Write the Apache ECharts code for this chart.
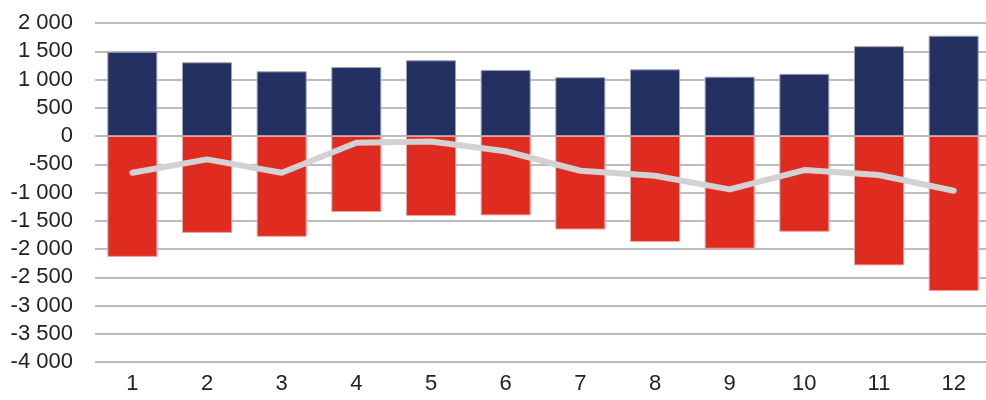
<!DOCTYPE html>
<html>
<head>
<meta charset="utf-8">
<script src="https://cdn.jsdelivr.net/npm/echarts@6/dist/echarts.min.js"></script>
<style>html,body{margin:0;padding:0;background:#fff}#c{width:986px;height:400px}</style>
</head>
<body>
<div id="c"></div>
<script>
var categories = ['1','2','3','4','5','6','7','8','9','10','11','12'];
var positiveValues = [1490, 1305, 1145, 1220, 1340, 1170, 1040, 1180, 1050, 1100, 1590, 1775];
var negativeValues = [-2140, -1715, -1785, -1345, -1415, -1405, -1655, -1875, -1995, -1695, -2290, -2745];
var lineValues = [-650, -413, -650, -119, -98, -270, -615, -704, -945, -603, -691, -970];

function fmt(v) {
  var s = Math.abs(v).toString();
  var out = s.replace(/\B(?=(\d{3})+(?!\d))/g, ' ');
  return (v < 0 ? '-' : '') + out;
}

var chart = echarts.init(document.getElementById('c'), null, {renderer: 'canvas'});
chart.setOption({
  animation: false,
  backgroundColor: '#fff',
  textStyle: {fontFamily: 'Liberation Sans, Arial, sans-serif'},
  grid: {left: 95, top: 23, width: 896, height: 339, containLabel: false, outerBoundsMode: 'none'},
  xAxis: {
    type: 'category',
    data: categories,
    position: 'bottom',
    axisLine: {show: false},
    axisTick: {show: false},
    axisLabel: {fontSize: 22, color: '#222', margin: 11, fontFamily: 'Liberation Sans, Arial, sans-serif'},
    splitLine: {show: false}
  },
  yAxis: {
    type: 'value',
    min: -4000,
    max: 2000,
    interval: 500,
    axisLine: {show: false},
    axisTick: {show: false},
    axisLabel: {fontSize: 22, color: '#222', margin: 22, formatter: fmt, fontFamily: 'Liberation Sans, Arial, sans-serif'},
    splitLine: {show: true, lineStyle: {color: '#a6a6a6', width: 1.5}}
  },
  series: [
    {
      type: 'bar', stack: 'total', data: positiveValues, barWidth: 50,
      itemStyle: {color: '#243061', borderColor: '#9aa1bd', borderWidth: 1}
    },
    {
      type: 'bar', stack: 'total', data: negativeValues, barWidth: 50,
      itemStyle: {color: '#e02b20', borderColor: '#f2a09a', borderWidth: 1}
    },
    {
      type: 'line', data: lineValues, symbol: 'none', z: 5,
      lineStyle: {color: '#d2d2d2', width: 6, cap: 'round', join: 'round'}
    }
  ]
});
</script>
</body>
</html>
